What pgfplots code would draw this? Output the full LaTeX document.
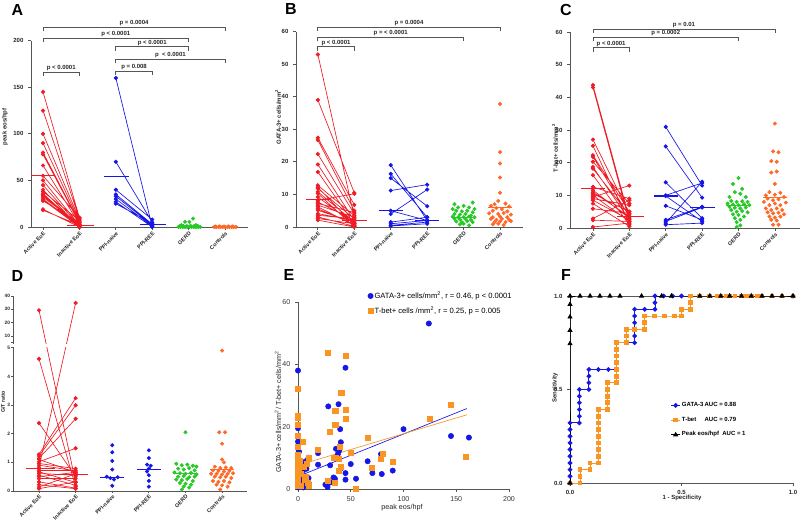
\documentclass[border=0pt]{standalone}
\usepackage{fontspec}
\setmainfont{Liberation Sans}
\usepackage{pgfplots}
\pgfplotsset{compat=1.18}
\definecolor{cred}{RGB}{238,28,37}
\definecolor{cblue}{RGB}{22,22,230}
\definecolor{cgreen}{RGB}{40,200,40}
\definecolor{corange}{RGB}{255,105,40}
\definecolor{corange2}{RGB}{250,148,35}
\definecolor{axgray}{RGB}{85,85,85}
\newcommand{\tfont}{\fontsize{4.5}{5}\selectfont\bfseries}
\newcommand{\xfont}{\fontsize{4.1}{5}\selectfont\bfseries}
\pgfplotsset{
 base/.style={scale only axis, axis lines=left, axis line style={-, line width=0.7pt, draw=axgray},
   enlargelimits=false, clip=false, tick align=outside, major tick length=2.2pt,
   tick style={line width=0.6pt, draw=axgray}, ticklabel style={font=\tfont, text=black!85},
   /pgf/number format/assume math mode=true},
 cat/.style={base, xtick={0,1,2,3,4,5}, xticklabels={Active EoE,Inactive EoE,PPI-naive,PPI-REE,GERD,Controls},
   xticklabel style={rotate=45, anchor=north east, inner sep=0.6pt, font=\xfont}},
 pr/.style={line width=0.5pt, mark=*, mark size=1.3pt, mark options={solid}, unbounded coords=jump},
 sc/.style={only marks, mark=*, mark size=1.3pt},
 med/.style={line width=0.8pt, no marks},
}
\tikzset{bkt/.style={line width=0.6pt, draw=axgray}, plab/.style={font=\tfont, anchor=south, inner sep=0.8pt, text=black!85},
 plet/.style={font=\fontsize{12}{12}\selectfont\bfseries}, ylab/.style={font=\tfont, rotate=90, text=black!85}}
\newcommand{\brk}[5]{\draw[bkt] ([yshift=-3pt]axis cs:#1,#3) -- (axis cs:#1,#3) -- (axis cs:#2,#3) -- ([yshift=-3pt]axis cs:#2,#3); \node[plab] at (axis cs:#5,#3) {#4};}
\begin{document}
\begin{tikzpicture}
\path[use as bounding box] (0,0) rectangle (600pt,390pt);
% ---------------- A ----------------
\begin{axis}[cat, at={(23.25pt,219.75pt)}, anchor=south west, width=162.75pt, height=139.7pt,
  xmin=-0.33, xmax=5.63, ymin=0, ymax=200, ytick={0,50,100,150,200}]
\addplot[pr, cred, mark options={fill=cred}] coordinates {
(0,145)(1,10)(0,nan) (0,125)(1,9)(0,nan) (0,100)(1,8)(0,nan) (0,90)(1,6)(0,nan)
(0,80)(1,5)(0,nan) (0,78)(1,4)(0,nan) (0,66)(1,3)(0,nan) (0,55)(1,10)(0,nan)
(0,50)(1,2)(0,nan) (0,45)(1,1)(0,nan) (0,40)(1,0)(0,nan) (0,38)(1,7)(0,nan)
(0,36)(1,0)(0,nan) (0,35)(1,2)(0,nan) (0,34)(1,0)(0,nan) (0,32)(1,3)(0,nan)
(0,30)(1,1)(0,nan) (0,29)(1,0)(0,nan) (0,28)(1,5)(0,nan) (0,19)(1,0)(0,nan) (0,18)(1,2)};
\addplot[med, cred] coordinates {(-0.33,55)(0.33,55)};
\addplot[med, cred] coordinates {(0.67,2)(1.4,2)};
\addplot[pr, cblue, mark options={fill=cblue}] coordinates {
(2,160)(3,0)(2,nan) (2,70)(3,5)(2,nan) (2,40)(3,8)(2,nan) (2,35)(3,3)(2,nan)
(2,33)(3,2)(2,nan) (2,30)(3,1)(2,nan) (2,27)(3,0)(2,nan) (2,25)(3,4)};
\addplot[med, cblue] coordinates {(1.67,54)(2.37,54)};
\addplot[med, cblue] coordinates {(2.67,2.5)(3.37,2.5)};
\addplot[sc, cgreen] coordinates {
(3.72,0)(3.78,0)(3.84,0)(3.9,0)(3.96,0)(4.02,0)(4.08,0)(4.14,0)(4.2,0)(4.26,0)(4.32,0)
(3.75,1)(3.85,1.2)(3.95,1)(4.05,1.3)(4.15,1)(4.25,1.2)(3.8,2)(4.2,2)(3.9,5.5)(4.02,5.5)(4.12,9)};
\addplot[med, cgreen] coordinates {(3.67,0.5)(4.33,0.5)};
\addplot[sc, corange] coordinates {
(4.7,0)(4.76,0)(4.82,0)(4.88,0)(4.94,0)(5,0)(5.06,0)(5.12,0)(5.18,0)(5.24,0)(5.3,0)
(4.73,0.6)(4.85,0.6)(4.97,0.6)(5.09,0.6)(5.21,0.6)};
\addplot[med, corange] coordinates {(4.65,0.3)(5.35,0.3)};
\brk{0}{5}{214.5}{p = 0.0004}{2.5}
\brk{0}{4}{202.5}{p < 0.0001}{2}
\brk{2}{4}{193.5}{p < 0.0001}{3}
\brk{2}{5}{180}{p \ < 0.0001}{3.5}
\brk{2}{3}{167.5}{p = 0.008}{2.5}
\brk{0}{1}{166.5}{p < 0.0001}{0.5}
\end{axis}
% ---------------- B ----------------
\begin{axis}[cat, at={(222pt,219.75pt)}, anchor=south west, width=170.25pt, height=146.5pt,
  xmin=-0.6, xmax=5.63, ymin=0, ymax=60, ytick={0,10,20,30,40,50,60}]
\addplot[pr, cred, mark options={fill=cred}] coordinates {
(0,53)(1,3)(0,nan) (0,39)(1,10.5)(0,nan) (0,27.4)(1,6.8)(0,nan) (0,26.7)(1,5)(0,nan)
(0,22.4)(1,4)(0,nan) (0,19.2)(1,2)(0,nan) (0,16.9)(1,1)(0,nan) (0,12.8)(1,3.5)(0,nan)
(0,12.2)(1,0.5)(0,nan) (0,11.8)(1,2.5)(0,nan) (0,10.8)(1,1.5)(0,nan) (0,10.3)(1,0)(0,nan)
(0,9.2)(1,1)(0,nan) (0,8.2)(1,10.2)(0,nan) (0,7.7)(1,2)(0,nan) (0,7.2)(1,4.5)(0,nan)
(0,6.7)(1,3)(0,nan) (0,6.2)(1,0.5)(0,nan) (0,5.6)(1,0.8)(0,nan) (0,5.1)(1,1.5)(0,nan)
(0,4.1)(1,2)(0,nan) (0,3.6)(1,2.5)(0,nan) (0,3.1)(1,0.2)(0,nan) (0,2.6)(1,1)(0,nan) (0,2.1)(1,0)};
\addplot[med, cred] coordinates {(-0.33,8.5)(0.33,8.5)};
\addplot[med, cred] coordinates {(0.67,2)(1.35,2)};
\addplot[pr, cblue, mark options={fill=cblue}] coordinates {
(2,19)(3,2)(2,nan) (2,16.3)(3,3)(2,nan) (2,15)(3,6.4)(2,nan) (2,11.2)(3,13)(2,nan)
(2,5)(3,2)(2,nan) (2,4)(3,11.5)(2,nan) (2,1.5)(3,3)(2,nan) (2,1)(3,2)(2,nan)
(2,0.5)(3,1.5)(2,nan) (2,0.3)(3,1)};
\addplot[med, cblue] coordinates {(1.67,5)(2.33,5)};
\addplot[med, cblue] coordinates {(2.67,2)(3.33,2)};
\addplot[sc, cgreen] coordinates {
(3.75,7)(4.25,7.5)(3.85,6)(4.0,6.5)(4.15,6)(3.7,5.5)(4.3,5.5)(3.8,5)(3.95,4.8)(4.1,5)(4.25,4.5)
(3.75,4)(3.9,3.8)(4.05,4)(4.2,3.5)(3.7,3.2)(3.85,3)(4.0,3)(4.15,3.2)(4.3,3)(3.75,2.5)(3.9,2.3)
(4.05,2.5)(4.2,2.2)(3.8,1.7)(3.95,1.5)(4.1,1.8)(4.25,1.5)(4.0,1)(4.15,0.5)(3.9,0.8)};
\addplot[med, cgreen] coordinates {(3.67,3)(4.33,3)};
\addplot[sc, corange] coordinates {
(5,37.8)(5,23)(5,19.5)(5,15.2)(5,10.5)(4.95,8)(4.85,7)(5.15,7.2)(4.75,6.5)(5.25,6.3)(4.9,5.8)
(5.05,5.5)(4.8,5)(5.2,4.8)(4.7,4.2)(4.95,4)(5.1,4.3)(5.3,3.8)(4.8,3)(5.0,3.2)(5.2,3)(4.75,2.5)
(4.9,2.2)(5.05,2.5)(5.25,2.2)(4.85,1.5)(5.0,1.7)(5.15,1.5)(5.3,1.8)(4.95,1)(5.1,0.6)(4.8,0.8)};
\addplot[med, corange] coordinates {(4.67,6)(5.33,6)};
\brk{0}{5}{61.4}{p = 0.0004}{2.5}
\brk{0}{4}{58.3}{p = < 0.0001}{2}
\brk{0}{1}{55.4}{p < 0.0001}{0.5}
\end{axis}
% ---------------- C ----------------
\begin{axis}[cat, at={(427.5pt,219pt)}, anchor=south west, width=172.5pt, height=146.8pt,
  xmin=-0.63, xmax=5.69, ymin=0, ymax=60, ytick={0,10,20,30,40,50,60}]
\addplot[pr, cred, mark options={fill=cred}] coordinates {
(0,43.8)(1,3)(0,nan) (0,43.1)(1,2)(0,nan) (0,27.1)(1,4.5)(0,nan) (0,25.2)(1,1.5)(0,nan)
(0,22.3)(1,5)(0,nan) (0,21.8)(1,3.5)(0,nan) (0,20.3)(1,7.5)(0,nan) (0,18.7)(1,2.5)(0,nan)
(0,18.2)(1,4)(0,nan) (0,16.2)(1,1)(0,nan) (0,12.6)(1,9)(0,nan) (0,11.6)(1,3)(0,nan)
(0,11)(1,3.5)(0,nan) (0,10.5)(1,5)(0,nan) (0,10)(1,2)(0,nan) (0,9.5)(1,13)(0,nan)
(0,9)(1,7)(0,nan) (0,8.5)(1,2.5)(0,nan) (0,7.5)(1,0.5)(0,nan) (0,5.9)(1,4.5)(0,nan)
(0,2.9)(1,8.5)(0,nan) (0,2.4)(1,2)(0,nan) (0,0.3)(1,1.5)};
\addplot[med, cred] coordinates {(-0.33,12)(0.33,12)};
\addplot[med, cred] coordinates {(0.67,3.5)(1.4,3.5)};
\addplot[pr, cblue, mark options={fill=cblue}] coordinates {
(2,31)(3,13)(2,nan) (2,25)(3,9.3)(2,nan) (2,14)(3,3)(2,nan) (2,10)(3,13.8)(2,nan)
(2,9.8)(3,2)(2,nan) (2,6.8)(3,2.5)(2,nan) (2,2.5)(3,6.5)(2,nan) (2,2)(3,6.3)(2,nan)
(2,1.5)(3,14.2)(2,nan) (2,1)(3,1.5)};
\addplot[med, cblue] coordinates {(1.67,9.8)(2.33,9.8)};
\addplot[med, cblue] coordinates {(2.67,6.3)(3.35,6.3)};
\addplot[sc, cgreen] coordinates {
(4,15.3)(3.85,13.5)(4.1,12)(3.9,11)(4.05,10.5)(3.75,9.5)(4.2,9.5)(3.8,8.3)(3.95,8)(4.1,8.2)
(4.25,8)(3.7,7.5)(3.85,7.2)(4.0,7)(4.15,7.3)(4.3,7)(3.75,6.5)(3.9,6.2)(4.05,6)(4.2,6.3)(3.8,5.5)
(3.95,5)(4.1,5.2)(4.25,4.8)(3.85,4.2)(4.0,4)(4.15,3.5)(3.9,3)(4.05,2.5)(3.95,1.8)(4.05,0.8)(3.95,0.3)};
\addplot[med, cgreen] coordinates {(3.67,6.8)(4.33,6.8)};
\addplot[sc, corange] coordinates {
(5,32)(4.95,23.5)(5.1,23.2)(4.9,20.5)(5.05,20.3)(4.9,17)(5.05,17.3)(5.0,13.5)(4.85,11)(5.15,10.8)
(4.75,10)(5.0,10.2)(5.25,9.5)(4.8,9)(4.95,8.5)(5.1,8.8)(4.7,8)(5.3,7.8)(4.85,7)(5.0,7.5)(5.15,7)
(4.75,6)(4.9,5.5)(5.05,6)(5.2,5.5)(4.8,4.8)(4.95,4.5)(5.1,4.7)(5.25,4.2)(4.85,3.5)(5.0,3.2)
(5.15,3.5)(4.9,2.5)(5.05,2.3)(4.95,1)(5.1,1)};
\addplot[med, corange] coordinates {(4.67,9.3)(5.33,9.3)};
\brk{0}{5}{61}{p = 0.01}{2.5}
\brk{0}{4}{58.4}{p = 0.0002}{2}
\brk{0}{1}{55.3}{p < 0.0001}{0.5}
\end{axis}
% ---------------- D ----------------
\begin{axis}[cat, at={(9.75pt,21.75pt)}, anchor=south west, width=175.5pt, height=146.25pt,
  xmin=-0.71, xmax=5.68, ymin=0, ymax=40, major tick length=1.5pt,
  y coord trafo/.code={\pgfmathparse{(#1>5)?(5.175+(#1-5)*0.0466):(#1)}},
  y coord inv trafo/.code={\pgfmathparse{(#1>5.175)?(5+(#1-5.175)/0.0466):(#1)}},
  ytick={0,1,2,3,4,5,10,20,30,40}, yticklabels={0,1,2,3,4,5,10,20,30,40},
  yticklabel style={font=\fontsize{3.6}{4}\selectfont\bfseries, inner sep=0.6pt}]
\addplot[pr, cred, mark options={fill=cred}] coordinates {(0,29.3)(1,0.3)};
\addplot[pr, cred, mark options={fill=cred}] coordinates {(0,0.83)(1,34.8)};
\addplot[pr, cred, mark options={fill=cred}] coordinates {(0,4.61)(1,0.15)};
\addplot[pr, cred, mark options={fill=cred}] coordinates {(0,2.37)(1,0.5)};
\addplot[pr, cred, mark options={fill=cred}] coordinates {(0,1.28)(1,3.24)};
\addplot[pr, cred, mark options={fill=cred}] coordinates {(0,1.22)(1,2.99)};
\addplot[pr, cred, mark options={fill=cred}] coordinates {(0,1.14)(1,2.52)};
\addplot[pr, cred, mark options={fill=cred}] coordinates {(0,1.02)(1,1.49)};
\addplot[pr, cred, mark options={fill=cred}] coordinates {(0,0.96)(1,0.78)};
\addplot[pr, cred, mark options={fill=cred}] coordinates {(0,0.9)(1,0.7)};
\addplot[pr, cred, mark options={fill=cred}] coordinates {(0,0.73)(1,0.73)};
\addplot[pr, cred, mark options={fill=cred}] coordinates {(0,0.67)(1,0.3)};
\addplot[pr, cred, mark options={fill=cred}] coordinates {(0,0.61)(1,0.55)};
\addplot[pr, cred, mark options={fill=cred}] coordinates {(0,0.55)(1,0.2)};
\addplot[pr, cred, mark options={fill=cred}] coordinates {(0,0.5)(1,0.65)};
\addplot[pr, cred, mark options={fill=cred}] coordinates {(0,0.43)(1,0.43)};
\addplot[pr, cred, mark options={fill=cred}] coordinates {(0,0.32)(1,0.1)};
\addplot[pr, cred, mark options={fill=cred}] coordinates {(0,0.22)(1,0.08)};
\addplot[pr, cred, mark options={fill=cred}] coordinates {(0,0.14)(1,0.6)};
\addplot[pr, cred, mark options={fill=cred}] coordinates {(0,0.08)(1,0.32)};
\addplot[pr, cred, mark options={fill=cred}] coordinates {(0,1.1)(1,0.65)};
\addplot[med, cred] coordinates {(-0.35,0.78)(0.43,0.78)};
\addplot[med, cred] coordinates {(0.43,0.56)(1.35,0.56)};
\addplot[sc, cblue] coordinates {(2,1.6)(2,1.35)(2,1.05)(2,0.75)(1.85,0.5)(1.95,0.45)(2.05,0.4)(2.15,0.48)(2,0.18)};
\addplot[med, cblue] coordinates {(1.67,0.48)(2.33,0.48)};
\addplot[sc, cblue] coordinates {(3,1.42)(3,1.15)(2.95,0.92)(3.05,0.88)(3,0.78)(2.95,0.68)(3,0.55)(3,0.35)(3,0.15)};
\addplot[med, cblue] coordinates {(2.67,0.75)(3.33,0.75)};
\addplot[sc, cgreen] coordinates {
(4,2.05)(3.75,0.95)(3.9,0.9)(4.05,0.92)(4.2,0.88)(4.3,0.85)(3.8,0.78)(3.95,0.75)(4.1,0.8)(4.25,0.72)
(3.7,0.65)(3.85,0.62)(4,0.6)(4.15,0.63)(4.3,0.58)(3.8,0.5)(3.95,0.52)(4.1,0.48)(4.25,0.5)(3.75,0.4)
(3.9,0.38)(4.05,0.42)(4.2,0.35)(3.85,0.28)(4.0,0.25)(4.15,0.22)(3.95,0.15)(4.1,0.12)(3.9,0.05)};
\addplot[med, cgreen] coordinates {(3.67,0.6)(4.33,0.6)};
\addplot[sc, corange] coordinates {
(5,4.9)(4.92,2.05)(5.08,2.05)(5,1.65)(5,1.1)(5.05,1.0)(4.8,0.85)(4.95,0.8)(5.1,0.82)(5.25,0.8)
(4.75,0.72)(4.9,0.7)(5.05,0.68)(5.2,0.7)(4.7,0.6)(4.85,0.6)(5.0,0.58)(5.15,0.6)(5.3,0.62)(4.8,0.5)
(4.95,0.48)(5.1,0.5)(5.25,0.45)(4.75,0.35)(4.9,0.32)(5.05,0.35)(5.2,0.3)(4.85,0.22)(5.0,0.2)
(5.15,0.15)(4.95,0.05)};
\addplot[med, corange] coordinates {(4.67,0.75)(5.33,0.75)};
\end{axis}
\fill[white] (8.5pt,129.9pt) rectangle (185.25pt,132.3pt);
\draw[line width=0.7pt, draw=axgray] (9.75pt,21.75pt) -- (9.75pt,129.2pt);
\draw[line width=0.7pt, draw=axgray] (9.75pt,132.95pt) -- (9.75pt,168pt);
\draw[line width=0.6pt, draw=axgray] (9.75pt,132.95pt) -- (8.25pt,132.95pt);
% ---------------- E ----------------
\begin{axis}[base, at={(223.5pt,23.25pt)}, anchor=south west, width=158.25pt, height=140.25pt,
  xmin=0, xmax=200, ymin=0, ymax=60, xtick={0,50,100,150,200}, ytick={0,20,40,60},
  ticklabel style={font=\fontsize{5.3}{6}\selectfont\mdseries, text=black!80},
  legend style={at={(0.33,1.065)}, anchor=north west, draw=none, fill=none,
    font=\fontsize{5.7}{6.5}\selectfont, row sep=2.6pt, inner sep=0pt, nodes={inner sep=1pt}},
  legend cell align=left]
\addplot[only marks, mark=*, mark size=2pt, cblue] coordinates {
(124,53.1)(45,38.9)(0,38)(28.7,26.5)(38.4,27.2)(40,19.2)(100,19.2)(145,17)(162,16.5)(19,11.5)
(19,7.8)(40.6,15)(36,12.9)(39,12.3)(37.8,11.2)(41,6.7)(30.5,7.6)(45,5.1)(50,8)(55,3.3)(45,3)
(26,1.4)(28,0.6)(33.7,3.7)(35,3.3)(30.5,2.1)(66,8.9)(70.5,5.1)(78.7,11.2)(79.4,4.8)(89.8,5.9)
(0,23)(0,19.5)(0,15.2)(0,13)(0,11)(0,10.5)(0,9)(0,8)(0,7)(0,6)(0,5)(0,4)(0,3)(0,2)(0,1)(0,0.5)
(2,7)(3,5)(5,6)(6,8)(8,9)(10,10)(4,3)(7,2)(9,1)(10,3.5)(2,1.5)(5,0.5)(1,12)(3,9)(6,4)(8,6.5)(10,2)(1,2.5)};
\addlegendentry{GATA-3+ cells/mm\textsuperscript{2}, r = 0.46, p < 0.0001}
\addplot[only marks, mark=square*, mark size=1.9pt, corange2] coordinates {
(28.3,43.7)(45,42.7)(41,31)(0,32.3)(35.3,25.2)(45.4,25.3)(145,27.1)(45.7,22.4)(124.7,22.5)(35.3,20.6)
(30.2,18.4)(18.6,12.6)(39.7,13.5)(36.2,10.1)(34,9.9)(39,9.7)(50.4,11.5)(66,16.3)(80,11.2)(78.7,9.7)
(70.2,6.9)(90,8.8)(159.4,10.2)(40.3,7.2)(38.4,5.9)(28.3,2.5)(34.6,1.9)(54.8,0)
(0,23.5)(0,23)(0,20.5)(0,17)(0,13.5)(0,11)(0,10)(0,9)(0,8)(0,7)(0,6)(0,5)(0,4)(0,3)(0,2)(0,1)
(4.7,15.2)(10,10)(8,8)(3,5)(9,2)(2,9)(5,7)(7,4)(10,1)(1,6)(6,3)(3,1)};
\addlegendentry{T-bet+ cells /mm\textsuperscript{2}, r = 0.25, p = 0.005}
\addplot[cblue, line width=0.5pt, forget plot] coordinates {(5,4.7)(160,25.8)};
\addplot[corange2, line width=0.5pt, forget plot] coordinates {(5,8.1)(160,23.8)};
\end{axis}
% ---------------- F ----------------
\begin{axis}[base, at={(427.5pt,27.75pt)}, anchor=south west, width=167.25pt, height=140.25pt,
  xmin=0, xmax=1, ymin=0, ymax=1, xtick={0,0.5,1}, ytick={0,0.5,1},
  xticklabels={0.0,0.5,1.0}, yticklabels={0.0,0.5,1.0},
  legend style={at={(0.45,0.44)}, anchor=north west, draw=none, fill=none,
    font=\tfont, row sep=4.3pt, inner sep=0pt, nodes={inner sep=1pt}},
  legend image code/.code={\draw[mark repeat=2, mark phase=2] plot coordinates {(0cm,0cm) (0.12cm,0cm) (0.24cm,0cm)};},
  legend cell align=left]
\addplot[cblue, line width=0.7pt, mark=*, mark size=1.4pt, mark options={fill=cblue}] coordinates {
(0,0)(0,0.036)(0,0.071)(0,0.107)(0,0.143)(0,0.179)(0,0.214)(0,0.25)(0,0.286)(0,0.321)
(0.042,0.321)(0.042,0.357)(0.042,0.393)(0.042,0.429)(0.042,0.464)(0.042,0.5)(0.085,0.5)(0.085,0.536)
(0.085,0.571)(0.085,0.607)(0.127,0.607)(0.172,0.607)(0.209,0.607)(0.209,0.75)(0.254,0.75)(0.29,0.75)
(0.29,0.786)(0.29,0.821)(0.29,0.857)(0.29,0.893)(0.29,0.929)(0.335,0.929)(0.381,0.929)(0.381,0.964)
(0.381,1)(0.42,1)(0.46,1)(0.5,1)(1,1)};
\addlegendentry{\makebox[17pt][l]{GATA-3}AUC = 0.88}
\addplot[corange2, line width=0.7pt, mark=square*, mark size=1.4pt, mark options={fill=corange2}] coordinates {
(0,0)(0.045,0)(0.045,0.036)(0.045,0.071)(0.09,0.071)(0.09,0.107)(0.127,0.107)(0.127,0.143)(0.127,0.179)
(0.127,0.214)(0.127,0.25)(0.127,0.286)(0.127,0.321)(0.127,0.357)(0.127,0.393)(0.167,0.393)(0.167,0.429)
(0.167,0.464)(0.167,0.5)(0.167,0.536)(0.209,0.536)(0.209,0.571)(0.209,0.607)(0.209,0.643)(0.209,0.679)
(0.209,0.714)(0.209,0.75)(0.254,0.75)(0.254,0.786)(0.254,0.821)(0.29,0.821)(0.335,0.821)(0.335,0.857)
(0.335,0.893)(0.38,0.893)(0.425,0.893)(0.47,0.893)(0.5,0.893)(0.5,0.929)(0.54,0.929)(0.54,0.964)
(0.54,1)(0.582,1)(0.627,1)(0.66,1)(0.676,1)(0.7,1)(0.716,1)(0.74,1)(0.769,1)(0.79,1)(0.813,1)
(0.84,1)(0.861,1)(0.906,1)(0.951,1)(1,1)};
\addlegendentry{\makebox[17pt][l]{T-bet}AUC = 0.79}
\addplot[black, line width=0.7pt, mark=triangle*, mark size=1.6pt, mark options={fill=black}] coordinates {
(0,0)(0,0.745)(0,0.816)(0,0.888)(0,0.955)(0,1)(0.045,1)(0.09,1)(0.134,1)(0.179,1)(0.224,1)(0.321,1)
(0.411,1)(0.455,1)(0.582,1)(0.627,1)(0.676,1)(0.716,1)(0.769,1)(0.813,1)(0.861,1)(0.906,1)(0.951,1)(1,1)};
\addlegendentry{Peak eos/hpf\ \ AUC = 1}
\end{axis}
% ---------------- labels ----------------
\node[plet] at (13.1pt,382.5pt) {A};
\node[plet] at (218.25pt,383.25pt) {B};
\node[plet] at (424.5pt,382.5pt) {C};
\node[plet] at (13.1pt,183pt) {D};
\node[plet] at (216.75pt,183.75pt) {E};
\node[plet] at (424.5pt,183.75pt) {F};
\node[ylab] at (3.75pt,294.75pt) {peak eos/hpf};
\node[ylab] at (208.5pt,302.25pt) {GATA-3+ cells/mm\textsuperscript{2}};
\node[ylab] at (416.25pt,279pt) {T-bet+ cells/mm\textsuperscript{2}};
\node[ylab, font=\fontsize{4}{4.5}\selectfont\bfseries] at (2.3pt,88.5pt) {G/T ratio};
\node[rotate=90, font=\fontsize{5.4}{6}\selectfont, text=black!85] at (208.5pt,81pt) {GATA-3+ cells/mm\textsuperscript{2}/ T-bet+ cells/mm\textsuperscript{2}};
\node[font=\fontsize{5.4}{6}\selectfont, text=black!85] at (301.5pt,9pt) {peak eos/hpf};
\node[ylab] at (416.25pt,99pt) {Sensitivity};
\node[font=\tfont, text=black!85] at (511.5pt,16.5pt) {1 - Specificity};
\end{tikzpicture}
\end{document}
